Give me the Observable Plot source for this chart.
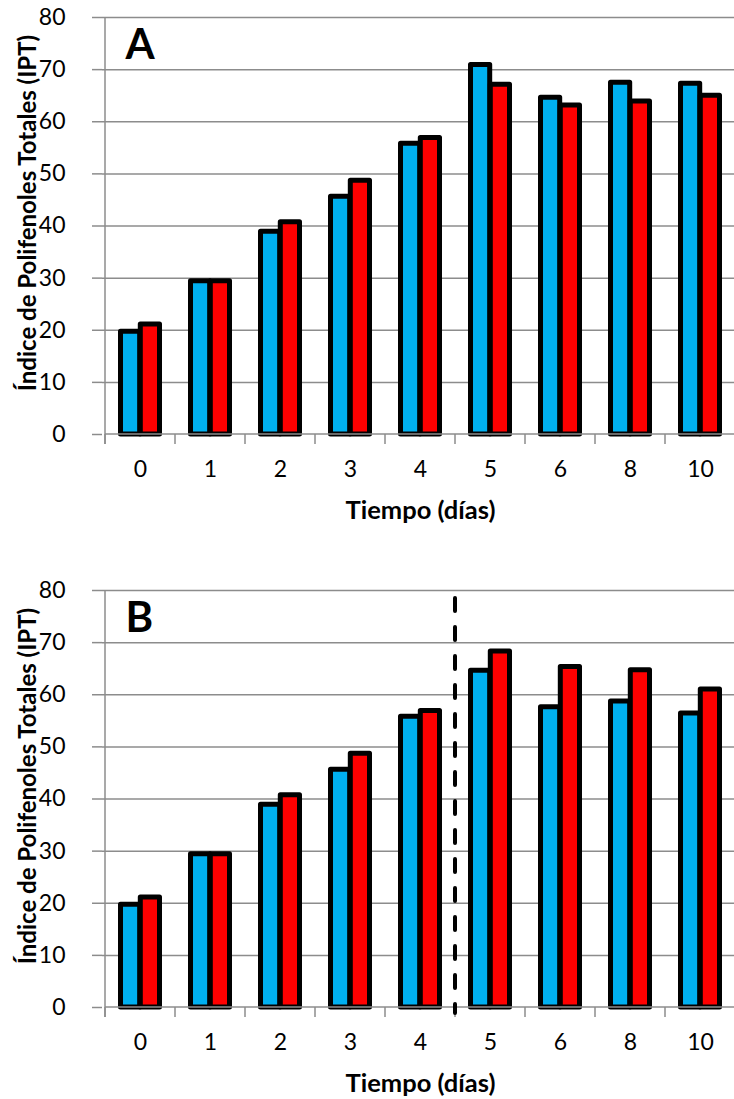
<!DOCTYPE html>
<html><head><meta charset="utf-8">
<script src="https://cdn.jsdelivr.net/npm/d3@7"></script>
<script src="https://cdn.jsdelivr.net/npm/@observablehq/plot@0.6"></script>
<style>
html,body{margin:0;padding:0;background:#fff;overflow:hidden;width:734px;height:1099px}
#chart{width:734px;height:1099px;overflow:hidden;position:relative}
#chart svg{display:block;max-width:none !important;width:740px !important;height:573px !important}
</style></head><body><div id="chart"></div>
<script>
// ---- data ----
const days = ["0","1","2","3","4","5","6","8","10"];
const seriesNames = ["Serie 1","Serie 2"];
const seriesColors = ["#00B0F0","#FF0000"];
const yTicks = [0,10,20,30,40,50,60,70,80];
const panelLabels = ["A","B"];
const xTitle = "Tiempo (días)";
const yTitle = "Índice de Polifenoles Totales (IPT)";
const panelA_serie1 = [19.7, 29.4, 38.9, 45.6, 55.8, 70.9, 64.6, 67.5, 67.3];
const panelA_serie2 = [21.1, 29.4, 40.7, 48.7, 56.9, 67.1, 63.1, 63.9, 65.0];
const panelB_serie1 = [19.7, 29.4, 38.9, 45.6, 55.8, 64.6, 57.6, 58.7, 56.4];
const panelB_serie2 = [21.1, 29.4, 40.7, 48.7, 56.9, 68.3, 65.3, 64.7, 61.0];
const panelB_split = "5";

const grid = "#8c8c8c";

function rows(s1, s2) {
  return days.flatMap((d, i) => [
    {day: d, serie: seriesNames[0], value: s1[i]},
    {day: d, serie: seriesNames[1], value: s2[i]}
  ]);
}

function frameMark(split) {
  return (index, scales) => {
    const x = scales.x, y = scales.y;
    const bw = x.bandwidth();
    const y0 = y(0), yTop = y(yTicks[yTicks.length - 1]);
    const edges = days.map(d => x(d)).concat([x(days[days.length - 1]) + bw]);
    const g = d3.create("svg:g");
    g.append("line").attr("x1", edges[0]).attr("x2", edges[edges.length - 1])
      .attr("y1", y0).attr("y2", y0).attr("stroke", grid).attr("stroke-width", 1.5);
    g.append("line").attr("x1", edges[0]).attr("x2", edges[0])
      .attr("y1", yTop).attr("y2", y0 + 10).attr("stroke", grid).attr("stroke-width", 1.5);
    for (const e of edges) {
      g.append("line").attr("x1", e).attr("x2", e).attr("y1", y0).attr("y2", y0 + 10)
        .attr("stroke", grid).attr("stroke-width", 1.5);
    }
    if (split) {
      const xs = x(split);
      g.append("line").attr("x1", xs).attr("x2", xs)
        .attr("y1", yTop + 8).attr("y2", y0 + 6)
        .attr("stroke", "#000").attr("stroke-width", 4)
        .attr("stroke-linecap", "round").attr("stroke-dasharray", "13,16");
    }
    return g.node();
  };
}

function panel(label, s1, s2, split) {
  const data = rows(s1, s2);
  return Plot.plot({
    width: 740,
    height: 573,
    marginLeft: 102,
    marginRight: 2,
    marginTop: 17,
    marginBottom: 139,
    style: {fontFamily: "Lato, 'Open Sans', sans-serif", color: "black", background: "white", maxWidth: "none"},
    x: {domain: days, padding: 0},
    y: {domain: [0, 80]},
    color: {domain: seriesNames, range: seriesColors},
    marks: [
      Plot.ruleY(yTicks.slice(1), {stroke: grid, strokeWidth: 1.5}),
      Plot.barY(data.filter(d => d.serie === seriesNames[0]), {
        x: "day", y: "value", fill: "serie", stroke: "#000", strokeWidth: 5,
        strokeLinejoin: "round", insetLeft: 15.5, insetRight: 35.3
      }),
      Plot.barY(data.filter(d => d.serie === seriesNames[1]), {
        x: "day", y: "value", fill: "serie", stroke: "#000", strokeWidth: 5,
        strokeLinejoin: "round", insetLeft: 35.3, insetRight: 15.5
      }),
      frameMark(split),
      Plot.axisY({ticks: yTicks, tickSize: 10, tickPadding: 27, stroke: grid, strokeWidth: 1.5,
        strokeOpacity: 1, fill: "black", fontSize: 23, label: null}),
      Plot.axisX({tickSize: 0, tickPadding: 26, fill: "black", fontSize: 23, label: null}),
      Plot.text([label], {text: d => d, frameAnchor: "top-left", dx: 23, dy: 12,
        fontSize: 42, fontWeight: "bold", lineAnchor: "top", textAnchor: "start", fill: "black"}),
      Plot.text([yTitle], {text: d => d, frameAnchor: "left", rotate: -90, dx: -74.5, dy: -13,
        fontSize: 24, fontWeight: "bold", textAnchor: "middle", lineAnchor: "middle", fill: "black"}),
      Plot.text([xTitle], {text: d => d, frameAnchor: "bottom", dy: 76,
        fontSize: 25.5, fontWeight: "bold", textAnchor: "middle", lineAnchor: "middle", fill: "black"})
    ]
  });
}

const root = document.getElementById("chart");
root.append(panel(panelLabels[0], panelA_serie1, panelA_serie2, null));
root.append(panel(panelLabels[1], panelB_serie1, panelB_serie2, panelB_split));
</script></body></html>
